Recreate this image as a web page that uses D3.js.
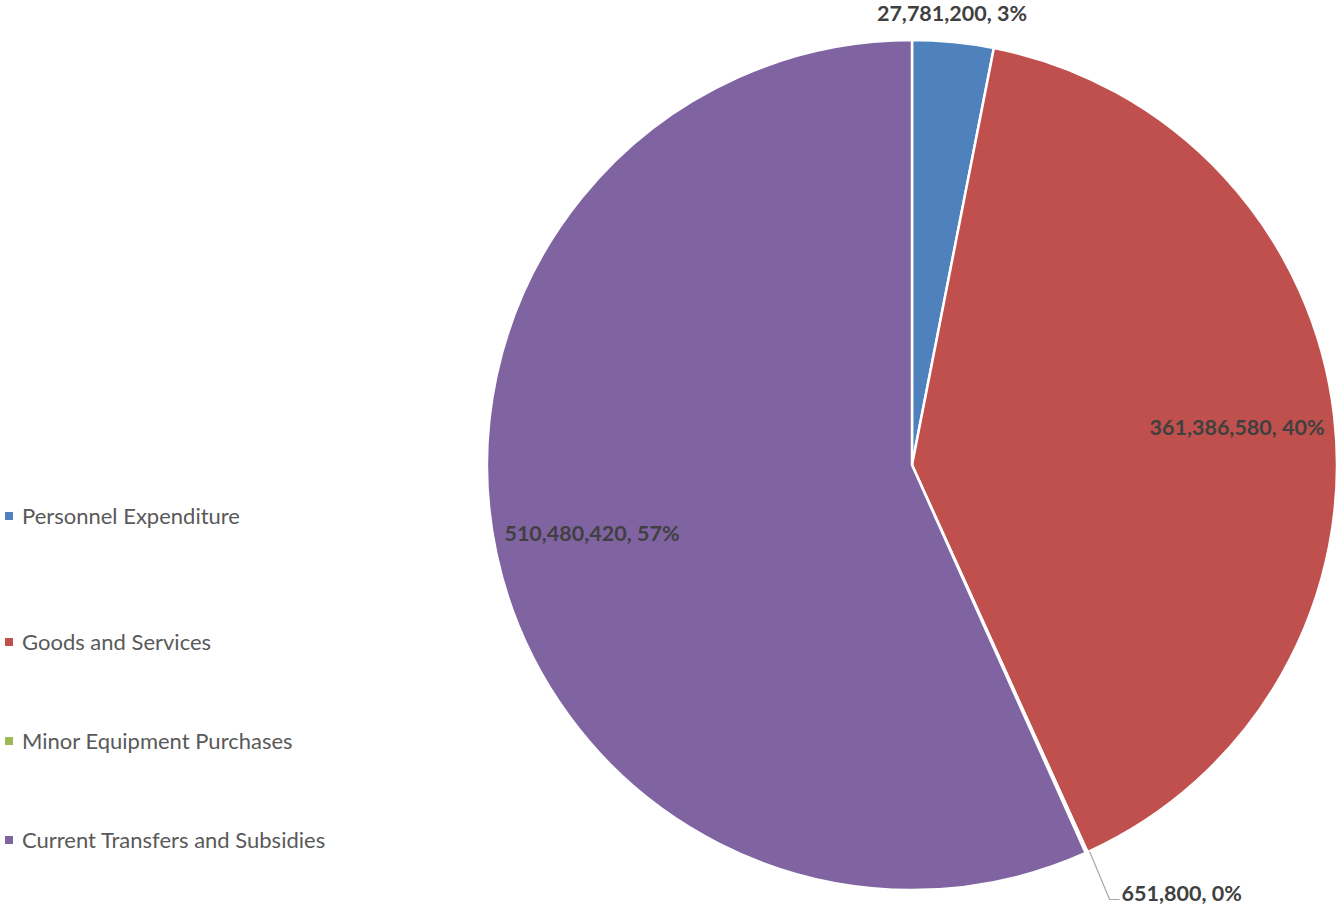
<!DOCTYPE html>
<html>
<head>
<meta charset="utf-8">
<script src="https://cdn.jsdelivr.net/npm/d3@7"></script>
<style>
  body { margin: 0; background: #fff; }
  svg { display: block; }
</style>
</head>
<body>
<svg id="chart" width="1337" height="911"></svg>
<script>
const categories = [
  "Personnel Expenditure",
  "Goods and Services",
  "Minor Equipment Purchases",
  "Current Transfers and Subsidies",
];
const values = [27781200, 361386580, 651800, 510480420];
const colors = ["#4f81bd", "#c0504d", "#9bbb59", "#8064a2"];

const svg = d3.select("#chart");
const cx = 912;
const cy = 465;
const radius = 425;
const font = "Lato, 'Open Sans', sans-serif";

const data = categories.map((c, i) => ({ name: c, value: values[i], color: colors[i] }));
const total = d3.sum(values);

const pie = d3.pie().sort(null).value((d) => d.value);
const arcs = pie(data);
const arc = d3.arc().innerRadius(0).outerRadius(radius);

const g = svg.append("g").attr("transform", `translate(${cx},${cy})`);

g.selectAll("path")
  .data(arcs)
  .join("path")
  .attr("d", arc)
  .attr("fill", (d) => d.data.color)
  .attr("stroke", "#fff")
  .attr("stroke-width", 2.5)
  .attr("stroke-linejoin", "round");

const fmt = d3.format(",");
const pct = (v) => Math.round((v / total) * 100) + "%";

const labels = g.append("g")
  .attr("font-family", font)
  .attr("font-weight", "bold")
  .attr("font-size", 21.5)
  .attr("fill", "#404040");

arcs.forEach((d, i) => {
  const mid = (d.startAngle + d.endAngle) / 2;
  const text = fmt(d.data.value) + ", " + pct(d.data.value);
  if (i === 2) {
    // tiny slice: leader line out to the label
    const p0 = [Math.sin(mid) * radius + 3, -Math.cos(mid) * radius - 1];
    const p1 = [p0[0] + 20, p0[1] + 48];
    const p2 = [p1[0] + 10, p1[1]];
    labels.append("polyline")
      .attr("points", [p0, p1, p2].map((p) => p.join(",")).join(" "))
      .attr("fill", "none")
      .attr("stroke", "#a6a6a6")
      .attr("stroke-width", 1.2);
    labels.append("text")
      .attr("x", p2[0] + 2)
      .attr("y", p2[1] - 6)
      .attr("dy", "0.35em")
      .attr("text-anchor", "start")
      .text(text);
    return;
  }
  let x, y;
  if (i === 0) {
    // sits above the pie
    x = 952 - cx;
    y = 13 - cy;
  } else {
    x = Math.sin(mid) * radius * 0.77;
    y = -Math.cos(mid) * radius * 0.77;
  }
  labels.append("text")
    .attr("x", x)
    .attr("y", y)
    .attr("dy", "0.35em")
    .attr("text-anchor", "middle")
    .text(text);
});

// legend (excel left a bigger gap after the first entry)
const legendY = d3.scalePoint().domain(categories).range([543, 840]);
const rowY = (d, i) => legendY(d.name) - (i === 0 ? 27 : 0);
const legend = svg.append("g")
  .attr("font-family", font)
  .attr("font-size", 22)
  .attr("fill", "#595959");

legend.selectAll("rect")
  .data(data)
  .join("rect")
  .attr("x", 5)
  .attr("y", (d, i) => rowY(d, i) - 4)
  .attr("width", 8)
  .attr("height", 8)
  .attr("fill", (d) => d.color);

legend.selectAll("text")
  .data(data)
  .join("text")
  .attr("x", 22)
  .attr("y", (d, i) => rowY(d, i))
  .attr("dy", "0.35em")
  .text((d) => d.name);
</script>
</body>
</html>
